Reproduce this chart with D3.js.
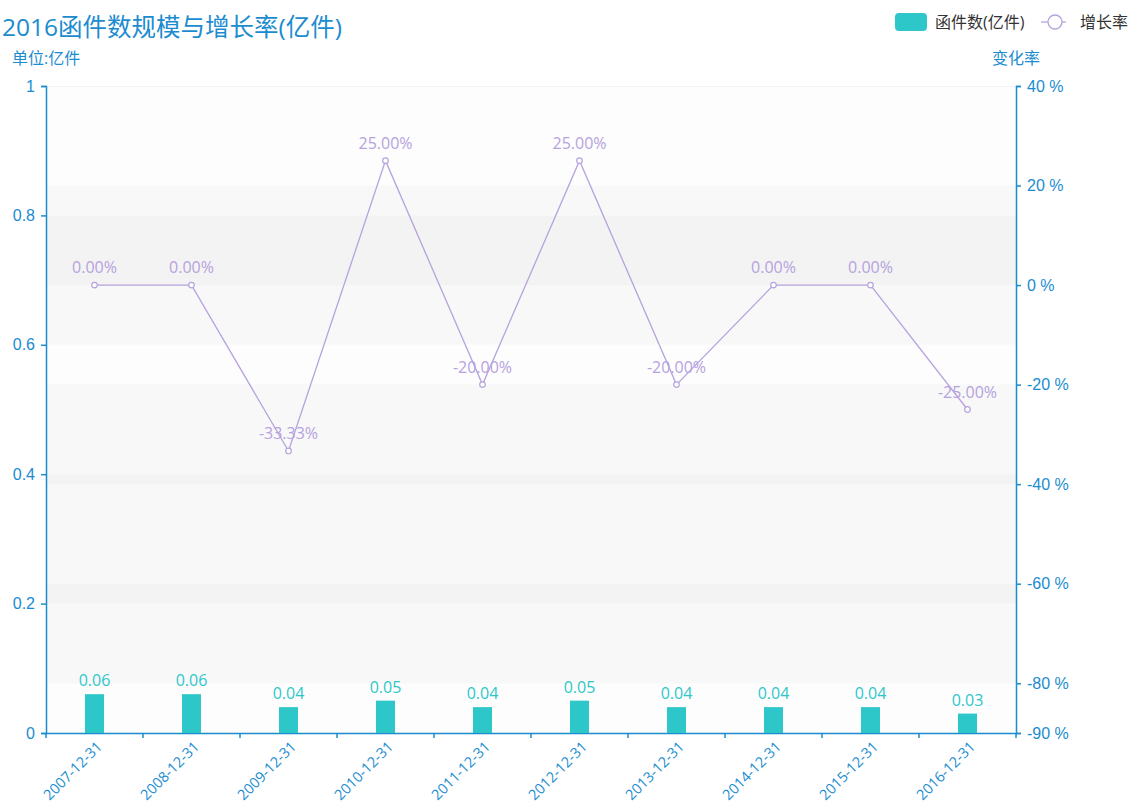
<!DOCTYPE html>
<html>
<head>
<meta charset="utf-8">
<script src="https://cdn.jsdelivr.net/npm/d3@7"></script>
<style>
  body { margin: 0; background: #fff; }
  svg { display: block; font-family: "Open Sans", "Noto Sans CJK SC", sans-serif; }
</style>
</head>
<body>
<div id="chart"></div>
<script>
// Chart data.
const categories = ["2007-12-31", "2008-12-31", "2009-12-31", "2010-12-31", "2011-12-31",
    "2012-12-31", "2013-12-31", "2014-12-31", "2015-12-31", "2016-12-31"];
const volumes = [0.06, 0.06, 0.04, 0.05, 0.04, 0.05, 0.04, 0.04, 0.04, 0.03];
const growthRates = [0, 0, -33.33, 25, -20, 25, -20, 0, 0, -25];
const leftTicks = [0, 0.2, 0.4, 0.6, 0.8, 1];
const rightTicks = [-90, -80, -60, -40, -20, 0, 20, 40];

const WIDTH = 1131, HEIGHT = 809;
const MARGIN = { top: 86, right: 115, bottom: 76, left: 46 };
const INNER_W = WIDTH - MARGIN.left - MARGIN.right;
const INNER_H = HEIGHT - MARGIN.top - MARGIN.bottom;

const AXIS_COLOR = "#1a8ccf";
const BAR_COLOR = "#2ec7c9";
const LINE_COLOR = "#b6a2de";

const svg = d3.select("#chart").append("svg")
    .attr("width", WIDTH)
    .attr("height", HEIGHT);

const chart = svg.append("g")
    .attr("transform", `translate(${MARGIN.left}, ${MARGIN.top})`);

const xScale = d3.scaleBand().domain(categories).range([0, INNER_W]);
const yLeft = d3.scaleLinear().domain([0, 1]).range([INNER_H, 0]);
const yRight = d3.scaleLinear().domain([-90, 40]).range([INNER_H, 0]);

// Split areas of both value axes, laid over each other like the original.
const bandColors = ["rgba(250,250,250,0.1)", "rgba(200,200,200,0.1)"];
const drawBands = (scale, ticks) => {
    chart.append("g").selectAll("rect")
        .data(d3.pairs(ticks))
        .join("rect")
        .attr("x", 0)
        .attr("width", INNER_W)
        .attr("y", d => scale(d[1]))
        .attr("height", d => scale(d[0]) - scale(d[1]))
        .attr("fill", (d, i) => bandColors[i % 2]);
};
drawBands(yLeft, leftTicks);
drawBands(yRight, rightTicks);

chart.append("line")
    .attr("x1", 0).attr("x2", INNER_W)
    .attr("y1", 0.5).attr("y2", 0.5)
    .attr("stroke", "#f3f3f3");

// Axes
const styleAxis = g => {
    g.selectAll("path, line").attr("stroke", AXIS_COLOR).attr("stroke-width", 1.5);
    g.selectAll("text").attr("fill", AXIS_COLOR).style("font-size", "16px");
};

chart.append("g")
    .call(d3.axisLeft(yLeft).tickValues(leftTicks).tickFormat(d3.format("")).tickSize(5).tickSizeOuter(5).tickPadding(6))
    .call(styleAxis);

chart.append("g")
    .attr("transform", `translate(${INNER_W}, 0)`)
    .call(d3.axisRight(yRight).tickValues(rightTicks).tickFormat(d => `${d} %`).tickSize(5).tickSizeOuter(5).tickPadding(6))
    .call(styleAxis);

const xAxis = chart.append("g")
    .attr("transform", `translate(0, ${INNER_H})`)
    .call(d3.axisBottom(xScale).tickSize(0).tickSizeOuter(0).tickFormat(""))
    .call(styleAxis);

xAxis.selectAll(".boundary")
    .data(d3.range(categories.length + 1))
    .join("line")
    .attr("x1", i => i * xScale.step())
    .attr("x2", i => i * xScale.step())
    .attr("y1", 0).attr("y2", 5)
    .attr("stroke", AXIS_COLOR)
    .attr("stroke-width", 1.5);

// Rotated category labels; kept just inside the bottom edge.
chart.append("g").selectAll("text")
    .data(categories)
    .join("text")
    .attr("transform", d => `translate(${xScale(d) + xScale.bandwidth() / 2 + 5}, ${INNER_H + 11}) rotate(-45)`)
    .attr("text-anchor", "end")
    .attr("dy", "0.35em")
    .attr("fill", AXIS_COLOR)
    .style("font-size", "14.5px")
    .text(d => d);

// Bars
const barWidth = 19;
chart.append("g").selectAll("rect")
    .data(categories)
    .join("rect")
    .attr("x", (d, i) => xScale(d) + xScale.bandwidth() / 2 - barWidth / 2)
    .attr("y", (d, i) => yLeft(volumes[i]))
    .attr("width", barWidth)
    .attr("height", (d, i) => INNER_H - yLeft(volumes[i]))
    .attr("fill", BAR_COLOR);

chart.append("g").selectAll("text")
    .data(categories)
    .join("text")
    .attr("x", d => xScale(d) + xScale.bandwidth() / 2)
    .attr("y", (d, i) => yLeft(volumes[i]) - 8)
    .attr("text-anchor", "middle")
    .attr("fill", BAR_COLOR)
    .style("font-size", "16px")
    .text((d, i) => volumes[i].toFixed(2));

// Growth line
const cx = d => xScale(d) + xScale.bandwidth() / 2;
chart.append("path")
    .datum(categories)
    .attr("fill", "none")
    .attr("stroke", LINE_COLOR)
    .attr("stroke-width", 1.3)
    .attr("d", d3.line().x(cx).y((d, i) => yRight(growthRates[i])));

chart.append("g").selectAll("circle")
    .data(categories)
    .join("circle")
    .attr("cx", cx)
    .attr("cy", (d, i) => yRight(growthRates[i]))
    .attr("r", 2.8)
    .attr("fill", "#fff")
    .attr("stroke", LINE_COLOR)
    .attr("stroke-width", 1.2);

chart.append("g").selectAll("text")
    .data(categories)
    .join("text")
    .attr("x", cx)
    .attr("y", (d, i) => yRight(growthRates[i]) - 12)
    .attr("text-anchor", "middle")
    .attr("fill", LINE_COLOR)
    .style("font-size", "16px")
    .text((d, i) => `${growthRates[i].toFixed(2)}%`);

// Titles
svg.append("text")
    .attr("x", 2).attr("y", 36)
    .attr("fill", AXIS_COLOR)
    .style("font-size", "24.5px")
    .text("2016函件数规模与增长率(亿件)");

svg.append("text")
    .attr("x", 12).attr("y", 64)
    .attr("fill", AXIS_COLOR)
    .style("font-size", "16px")
    .text("单位:亿件");

svg.append("text")
    .attr("x", MARGIN.left + INNER_W).attr("y", 64)
    .attr("text-anchor", "middle")
    .attr("fill", AXIS_COLOR)
    .style("font-size", "16px")
    .text("变化率");

// Legend
const legend = svg.append("g").style("font-size", "16px");
legend.append("rect")
    .attr("x", 895).attr("y", 13)
    .attr("width", 32).attr("height", 18)
    .attr("rx", 4)
    .attr("fill", BAR_COLOR);
legend.append("text")
    .attr("x", 935).attr("y", 22).attr("dy", "0.35em")
    .attr("fill", "#333")
    .text("函件数(亿件)");
legend.append("line")
    .attr("x1", 1041).attr("x2", 1066)
    .attr("y1", 22).attr("y2", 22)
    .attr("stroke", LINE_COLOR)
    .attr("stroke-width", 1.3);
legend.append("circle")
    .attr("cx", 1055).attr("cy", 22).attr("r", 7)
    .attr("fill", "#fff")
    .attr("stroke", LINE_COLOR)
    .attr("stroke-width", 1.3);
legend.append("text")
    .attr("x", 1080).attr("y", 22).attr("dy", "0.35em")
    .attr("fill", "#333")
    .text("增长率");
</script>
</body>
</html>
